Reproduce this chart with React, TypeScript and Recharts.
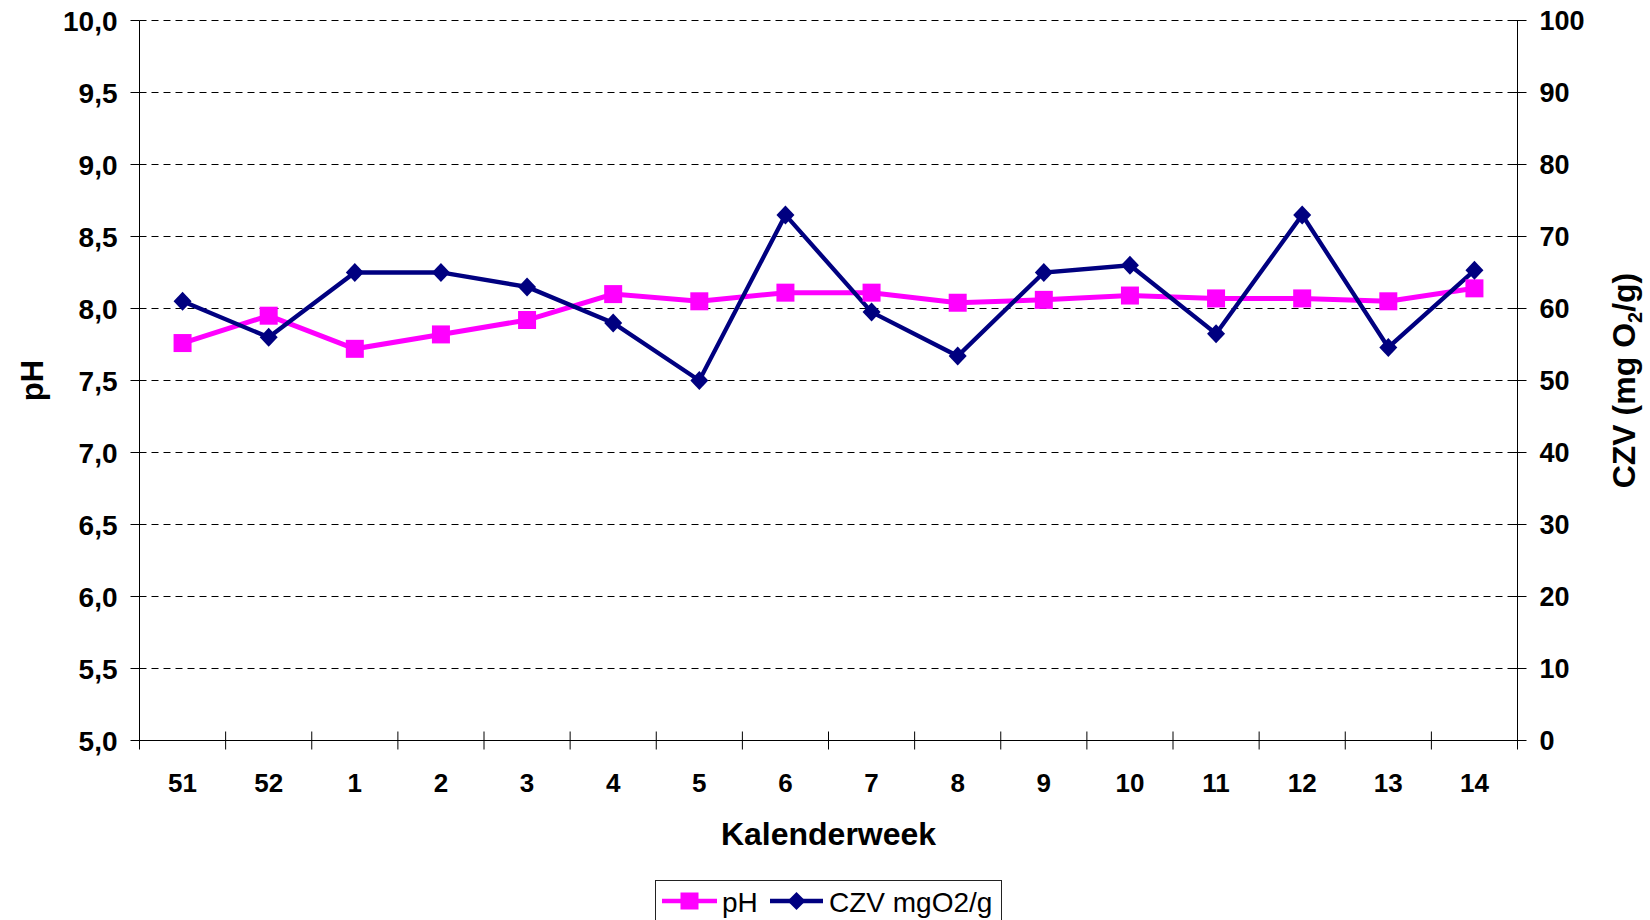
import { LineChart, Line, XAxis, YAxis, CartesianGrid, Legend } from 'recharts';

const weeks = ['51', '52', '1', '2', '3', '4', '5', '6', '7', '8', '9', '10', '11', '12', '13', '14'];
const phValues = [7.76, 7.95, 7.72, 7.82, 7.92, 8.1, 8.05, 8.11, 8.11, 8.04, 8.06, 8.09, 8.07, 8.07, 8.05, 8.14];
const czvValues = [61, 56, 65, 65, 63, 58, 50, 73, 59.5, 53.4, 65, 66, 56.5, 73, 54.6, 65.3];
const phTicks = [5, 5.5, 6, 6.5, 7, 7.5, 8, 8.5, 9, 9.5, 10];
const czvTicks = [0, 10, 20, 30, 40, 50, 60, 70, 80, 90, 100];

const data = weeks.map((week, i) => ({ week, ph: phValues[i], czv: czvValues[i] }));

const CHART_W = 1650;
const CHART_H = 920;
const MARGIN = { top: 20.5, right: 32.5, left: 59.5, bottom: 59.5 };
const LEFT_W = 80;
const RIGHT_W = 100;
const PLOT_W = CHART_W - MARGIN.left - MARGIN.right - LEFT_W - RIGHT_W;
const HALF_BAND = PLOT_W / weeks.length / 2;

const FONT = '"Liberation Sans", Arial, sans-serif';
const PINK = '#FF00FF';
const NAVY = '#000080';

const fmtPh = (v: number) => v.toFixed(1).replace('.', ',');

const LeftTick = ({ x, y, payload }: any) => (
  <g>
    <line x1={x - 9} x2={x} y1={y} y2={y} stroke="#000" />
    <text x={x - 22} y={y} dy="0.36em" textAnchor="end" fontFamily={FONT} fontWeight="bold" fontSize={28} fill="#000">
      {fmtPh(payload.value)}
    </text>
  </g>
);

const RightTick = ({ x, y, payload }: any) => (
  <g>
    <line x1={x - 9} x2={x + 9} y1={y} y2={y} stroke="#000" />
    <text x={x + 22} y={y} dy="0.36em" textAnchor="start" fontFamily={FONT} fontWeight="bold" fontSize={27} fill="#000">
      {payload.value}
    </text>
  </g>
);

const BottomTick = ({ x, y, payload, index }: any) => (
  <g>
    <line x1={x - HALF_BAND} x2={x - HALF_BAND} y1={y - 9} y2={y + 9} stroke="#000" />
    {index === weeks.length - 1 && (
      <line x1={x + HALF_BAND} x2={x + HALF_BAND} y1={y - 9} y2={y + 9} stroke="#000" />
    )}
    <text x={x} y={y + 42} dy="0.36em" textAnchor="middle" fontFamily={FONT} fontWeight="bold" fontSize={26} fill="#000">
      {payload.value}
    </text>
  </g>
);

const SquareDot = ({ cx, cy, index }: any) => (
  <rect key={`sq-${index}`} x={cx - 9} y={cy - 9} width={18} height={18} fill={PINK} />
);

const DiamondDot = ({ cx, cy, index }: any) => (
  <path key={`dm-${index}`} d={`M${cx},${cy - 9.5} L${cx + 9},${cy} L${cx},${cy + 9.5} L${cx - 9},${cy} Z`} fill={NAVY} />
);

const LegendBox = () => (
  <div style={{ width: 347, height: 46, border: '1px solid #222', boxSizing: 'border-box', background: '#fff' }}>
    <svg width={345} height={44} style={{ display: 'block' }}>
      <line x1={6} x2={61} y1={20} y2={20} stroke={PINK} strokeWidth={4.5} />
      <rect x={24.5} y={11.5} width={18} height={17} fill={PINK} />
      <text x={66} y={21} dy="0.36em" fontFamily={FONT} fontSize={28} fill="#000">pH</text>
      <line x1={114} x2={167} y1={20} y2={20} stroke={NAVY} strokeWidth={4.5} />
      <path d="M140.5,11 L149.5,20 L140.5,29 L131.5,20 Z" fill={NAVY} />
      <text x={173} y={21} dy="0.36em" fontFamily={FONT} fontSize={28} fill="#000">CZV mgO2/g</text>
    </svg>
  </div>
);

export default function App() {
  return (
    <div style={{ position: 'absolute', left: 0, top: 0, width: CHART_W, height: CHART_H, overflow: 'hidden', background: '#fff' }}>
      <LineChart width={CHART_W} height={CHART_H} data={data} margin={MARGIN}>
        <CartesianGrid yAxisId="left" vertical={false} stroke="#000" strokeDasharray="7 5" />
        <XAxis
          dataKey="week"
          interval={0}
          padding={{ left: HALF_BAND, right: HALF_BAND }}
          height={120}
          tickSize={0}
          tickMargin={0}
          tickLine={false}
          axisLine={{ stroke: '#000' }}
          tick={<BottomTick />}
          label={{
            content: ({ viewBox }: any) => (
              <text x={viewBox.x + viewBox.width / 2} y={viewBox.y + 93} dy="0.36em" textAnchor="middle" fontFamily={FONT} fontWeight="bold" fontSize={32} fill="#000">
                Kalenderweek
              </text>
            ),
          }}
        />
        <YAxis
          yAxisId="left"
          width={LEFT_W}
          domain={[5, 10]}
          ticks={phTicks}
          interval={0}
          tickSize={0}
          tickMargin={0}
          tickLine={false}
          axisLine={{ stroke: '#000' }}
          tick={<LeftTick />}
          label={{
            content: ({ viewBox }: any) => {
              const x = viewBox.x + viewBox.width - 108;
              const y = viewBox.y + viewBox.height / 2;
              return (
                <text x={x} y={y} transform={`rotate(-90, ${x}, ${y})`} dy="0.36em" textAnchor="middle" fontFamily={FONT} fontWeight="bold" fontSize={31} fill="#000">
                  pH
                </text>
              );
            },
          }}
        />
        <YAxis
          yAxisId="right"
          orientation="right"
          width={RIGHT_W}
          domain={[0, 100]}
          ticks={czvTicks}
          interval={0}
          tickSize={0}
          tickMargin={0}
          tickLine={false}
          axisLine={{ stroke: '#000' }}
          tick={<RightTick />}
          label={{
            content: ({ viewBox }: any) => {
              const x = viewBox.x + 105.5;
              const y = viewBox.y + viewBox.height / 2;
              return (
                <text x={x} y={y} transform={`rotate(-90, ${x}, ${y})`} dy="0.36em" textAnchor="middle" fontFamily={FONT} fontWeight="bold" fontSize={32} fill="#000">
                  <tspan>CZV (mg O</tspan>
                  <tspan dy={7} fontSize={20}>2</tspan>
                  <tspan dy={-7}>/g)</tspan>
                </text>
              );
            },
          }}
        />
        <Legend
          layout="horizontal"
          verticalAlign="middle"
          align="center"
          wrapperStyle={{ left: 655, top: 880, width: 347 }}
          content={() => <LegendBox />}
        />
        <Line
          yAxisId="left"
          type="linear"
          dataKey="ph"
          name="pH"
          stroke={PINK}
          strokeWidth={5}
          dot={<SquareDot />}
          activeDot={false}
          isAnimationActive={false}
        />
        <Line
          yAxisId="right"
          type="linear"
          dataKey="czv"
          name="CZV mgO2/g"
          stroke={NAVY}
          strokeWidth={4.3}
          dot={<DiamondDot />}
          activeDot={false}
          isAnimationActive={false}
        />
      </LineChart>
    </div>
  );
}
